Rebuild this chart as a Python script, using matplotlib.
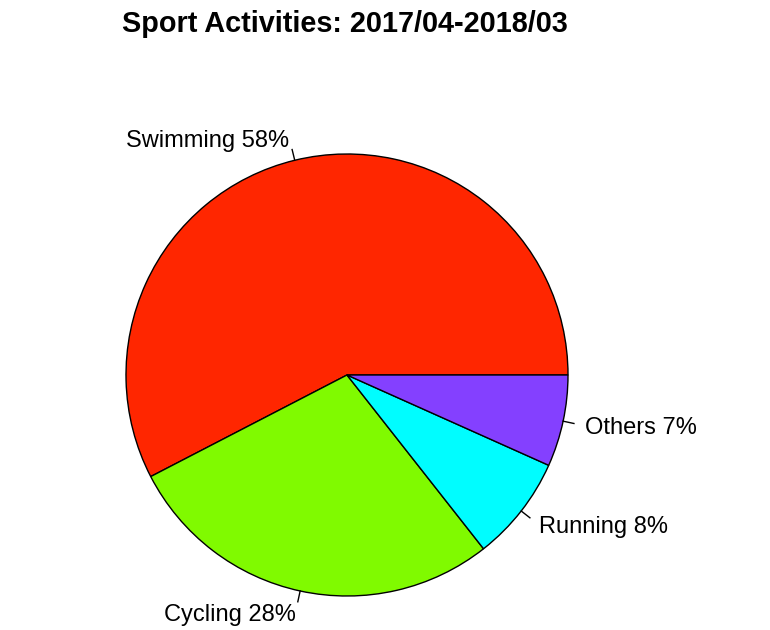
import numpy as np
import matplotlib
matplotlib.use("Agg")
import matplotlib.pyplot as plt

categories = ["Swimming", "Cycling", "Running", "Others"]
values = [57.6, 28.0, 7.7, 6.7]
colors = ["#FF2600", "#80FA00", "#00FDFF", "#8440FF"]
title = "Sport Activities: 2017/04-2018/03"

plt.rcParams['font.family'] = ['Liberation Sans', 'DejaVu Sans']

W, H = 770, 630
fig = plt.figure(figsize=(W / 100, H / 100), dpi=100)
ax = fig.add_axes([0, 0, 1, 1])
R = 221.0
cx, cy = 347.0, H - 375.0

total = sum(values)
pct = [round(v / total * 100) for v in values]
labels = [f"{c} {p}%" for c, p in zip(categories, pct)]

wedges, _ = ax.pie(values, colors=colors, startangle=0, counterclock=True,
                   radius=1.0, center=(0, 0),
                   wedgeprops=dict(edgecolor="black", linewidth=1.0),
                   frame=True)
ax.set_xlim(-cx / R, (W - cx) / R)
ax.set_ylim(-cy / R, (H - cy) / R)
ax.set_aspect("auto")
ax.axis("off")

cum = np.cumsum([0] + values) / total
for i, lab in enumerate(labels):
    mid = (cum[i] + cum[i + 1]) / 2 * 2 * np.pi
    c, s = np.cos(mid), np.sin(mid)
    ax.plot([c, 1.05 * c], [s, 1.05 * s], color="black", lw=1.0)
    ha = "left" if c > 0 else "right"
    ax.text(1.1 * c, 1.1 * s, lab, ha=ha, va="center_baseline", fontsize=17)

fig.text(345 / W, 1 - 32 / H, title, ha="center", va="baseline",
         fontsize=20.8, fontweight="bold")

fig.savefig("out.png", dpi=100)
